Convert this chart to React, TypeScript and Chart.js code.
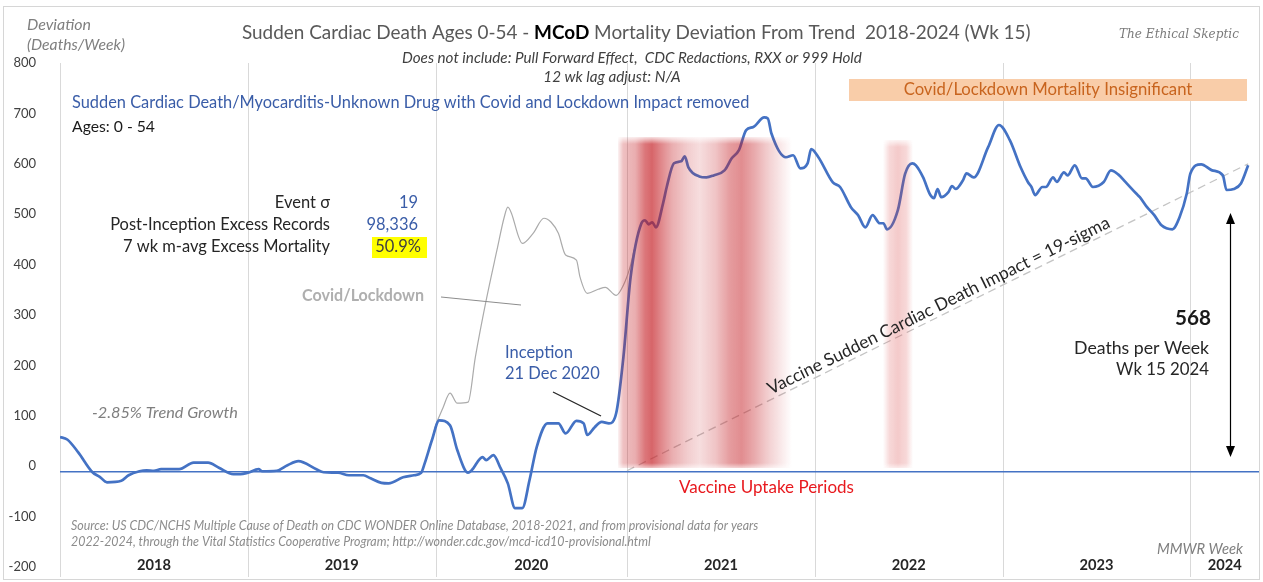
import React, { useEffect, useRef } from "react";
import { Chart, registerables } from "chart.js";
Chart.register(...registerables);

// ---------- DATA ----------
const yearLabels = ["2018", "2019", "2020", "2021", "2022", "2023", "2024"];
const yearStartWeeks = [0, 52, 104, 157, 209, 261, 313];
const axisEndWeek = 332;

// Sudden cardiac death deviation (deaths/week), week index since MMWR wk 1 2018
const weeks = [
  0, 2, 5, 9, 11, 13, 17, 19, 22, 24, 26, 28, 33, 37, 41, 44, 48, 50, 52, 55, 56, 60, 63, 66, 71, 73, 77, 80, 84, 86,
  89, 91, 95, 98, 100, 101, 103, 105, 108, 110, 113, 114, 117, 118, 120, 122, 124, 126, 128, 130, 132, 135, 138, 140,
  143, 145, 146, 148, 150, 152, 154, 156, 158, 161, 162, 163, 164, 165, 167, 168, 170, 172, 173, 174, 177, 179, 181,
  184, 186, 188, 190, 192, 195, 196, 197, 201, 203, 205, 207, 208, 210, 214, 216, 219, 221, 223, 225, 227, 228, 229,
  232, 234, 236, 237, 239, 241, 242, 243, 244, 246, 247, 248, 250, 251, 253, 257, 260, 263, 266, 268, 269, 270, 272,
  273, 275, 276, 278, 279, 281, 283, 284, 286, 289, 291, 293, 295, 298, 299, 301, 303, 305, 308, 310, 312, 313, 316,
  319, 322, 323, 325, 327, 329,
];
const cardiacDeviation = [
  58, 53, 28, -12, -21, -32, -29, -18, -10, -8, -9, -6, -6, 7, 7, -3, -16, -16, -13, -6, -10, -9, 2, 10, -6, -12, -13,
  -18, -18, -24, -33, -34, -22, -18, -13, 6, 52, 91, 81, 32, -13, -8, 18, 12, 22, -4, -34, -83, -83, -28, 38, 85, 85,
  65, 90, 85, 62, 77, 88, 85, 105, 216, 375, 482, 488, 480, 484, 474, 522, 554, 601, 605, 615, 593, 575, 573, 577,
  587, 611, 627, 667, 673, 692, 690, 660, 613, 617, 591, 601, 629, 613, 563, 554, 514, 498, 474, 498, 482, 482, 470,
  508, 580, 601, 597, 573, 538, 532, 550, 534, 544, 556, 550, 567, 581, 573, 633, 677, 647, 593, 564, 554, 538, 554,
  554, 573, 564, 583, 577, 597, 571, 571, 554, 564, 587, 579, 564, 541, 534, 514, 498, 478, 470, 494, 541, 581, 599,
  587, 577, 548, 550, 561, 597,
];

// Covid/Lockdown inclusive series (2020)
const covidWeeks = [
  103, 104, 106, 108, 110, 113, 115, 118, 121, 123, 124, 125, 127, 128, 131, 134, 136, 138, 140, 143, 144, 146, 149,
  151, 154, 156, 158, 159,
];
const covidDeviation = [
  52, 80, 115, 145, 125, 127, 216, 329, 429, 494, 514, 502, 455, 442, 462, 492, 484, 462, 419, 409, 375, 343, 351, 355,
  339, 359, 399, 430,
];

// Vaccine impact trend (dashed) and trend baseline
const impactTrendWeeks = [157, 329];
const impactTrendValues = [-9, 600];
const trendBaseline = -11;

// Vaccine uptake periods
const vaccineBandStart = [154.5, 227.9];
const vaccineBandEnd = [202.7, 236.2];
const vaccineBandTop = [653, 647];

// Stats
const statLabels = ["Event σ", "Post-Inception Excess Records", "7 wk m-avg Excess Mortality"];
const statValues = ["19", "98,336", "50.9%"];
const currentDeaths = "568";

// ---------- STYLE HELPERS ----------
const FONT = "Lato, 'Open Sans', 'DejaVu Sans', sans-serif";
const BLUE_TEXT = "#3A5DA8";

function setFont(ctx: CanvasRenderingContext2D, size: number, weight = "normal", style = "normal", family = FONT) {
  ctx.font = `${style} ${weight} ${size}px ${family}`;
}

type TOpts = { size: number; weight?: string; style?: string; family?: string; color: string; align?: CanvasTextAlign };

function fitSize(ctx: CanvasRenderingContext2D, text: string, width: number | null, o: TOpts) {
  setFont(ctx, o.size, o.weight, o.style, o.family);
  if (!width) return o.size;
  const w = ctx.measureText(text).width;
  let s = (o.size * width) / w;
  s = Math.max(o.size * 0.75, Math.min(o.size * 1.3, s));
  return s;
}

function txt(ctx: CanvasRenderingContext2D, text: string, x: number, y: number, width: number | null, o: TOpts) {
  const s = fitSize(ctx, text, width, o);
  setFont(ctx, s, o.weight, o.style, o.family);
  ctx.fillStyle = o.color;
  ctx.textAlign = o.align || "left";
  ctx.textBaseline = "middle";
  ctx.fillText(text, x, y);
  return s;
}

function drawBand(
  ctx: CanvasRenderingContext2D,
  x0: number,
  x1: number,
  yTop: number,
  yBot: number,
  stops: number[][],
  rgb: string
) {
  const w = Math.max(1, Math.round(x1 - x0));
  const h = Math.max(1, Math.round(yBot - yTop));
  const off = document.createElement("canvas");
  off.width = w;
  off.height = h;
  const o = off.getContext("2d")!;
  const g = o.createLinearGradient(0, 0, w, 0);
  stops.forEach(([p, a]) => g.addColorStop(p, `rgba(${rgb},${a})`));
  o.fillStyle = g;
  o.fillRect(0, 0, w, h);
  o.globalCompositeOperation = "destination-in";
  const v = o.createLinearGradient(0, 0, 0, h);
  v.addColorStop(0, "rgba(0,0,0,0.2)");
  v.addColorStop(Math.min(0.5, 7 / h), "rgba(0,0,0,1)");
  v.addColorStop(1 - Math.min(0.5, 5 / h), "rgba(0,0,0,1)");
  v.addColorStop(1, "rgba(0,0,0,0.4)");
  o.fillStyle = v;
  o.fillRect(0, 0, w, h);
  ctx.drawImage(off, Math.round(x0), Math.round(yTop));
}

const band1Stops = [
  [0, 0.05], [0.03, 0.28], [0.1, 0.36], [0.155, 0.6], [0.195, 0.68], [0.24, 0.55], [0.31, 0.36], [0.4, 0.22],
  [0.47, 0.15], [0.56, 0.26], [0.645, 0.44], [0.71, 0.5], [0.77, 0.4], [0.87, 0.2], [1, 0],
];
const band2Stops = [[0, 0], [0.22, 0.2], [0.5, 0.27], [0.78, 0.2], [1, 0]];

const decorPlugin = {
  id: "decor",
  beforeDatasetsDraw(chart: any) {
    const ctx: CanvasRenderingContext2D = chart.ctx;
    const xs = chart.scales.x;
    const area = chart.chartArea;
    ctx.save();
    // vertical year gridlines
    ctx.strokeStyle = "#D9D9D9";
    ctx.lineWidth = 1;
    yearStartWeeks.forEach((w) => {
      const x = Math.round(xs.getPixelForValue(w)) + 0.5;
      ctx.beginPath();
      ctx.moveTo(x, area.top);
      ctx.lineTo(x, 577);
      ctx.stroke();
    });
    // orange box
    ctx.fillStyle = "#F9CDA9";
    ctx.fillRect(849, 79, 398, 22);
    // yellow highlight
    ctx.fillStyle = "#FFFF00";
    ctx.fillRect(372, 237, 55, 21);
    ctx.restore();
  },
  afterDatasetsDraw(chart: any) {
    const ctx: CanvasRenderingContext2D = chart.ctx;
    const xs = chart.scales.x;
    const ys = chart.scales.y;
    ctx.save();
    vaccineBandStart.forEach((s, i) => {
      const x0 = xs.getPixelForValue(s);
      const x1 = xs.getPixelForValue(vaccineBandEnd[i]);
      const yT = ys.getPixelForValue(vaccineBandTop[i]);
      const yB = ys.getPixelForValue(-3);
      drawBand(ctx, x0, x1, yT, yB, i === 0 ? band1Stops : band2Stops, i === 0 ? "196,28,34" : "215,60,60");
    });
    ctx.restore();
  },
  afterDraw(chart: any) {
    const ctx: CanvasRenderingContext2D = chart.ctx;
    const xs = chart.scales.x;
    const ys = chart.scales.y;
    ctx.save();

    // frame
    ctx.strokeStyle = "#D6D6D6";
    ctx.lineWidth = 1;
    ctx.strokeRect(3.5, 6.5, 1256, 573);

    // axis title
    txt(ctx, "Deviation", 27, 25, 64, { size: 15, style: "italic", color: "#7F7F7F" });
    txt(ctx, "(Deaths/Week)", 27, 45, 98, { size: 15, style: "italic", color: "#7F7F7F" });

    // title with bold MCoD
    const p1 = "Sudden Cardiac Death Ages 0-54 - ";
    const p2 = "MCoD";
    const p3 = " Mortality Deviation From Trend  2018-2024 (Wk 15)";
    const base = 18;
    setFont(ctx, base);
    const w1 = ctx.measureText(p1).width;
    const w3 = ctx.measureText(p3).width;
    setFont(ctx, base, "bold");
    const w2 = ctx.measureText(p2).width;
    const sc = Math.max(0.8, Math.min(1.3, (1031 - 242) / (w1 + w2 + w3)));
    const ts = base * sc;
    ctx.textBaseline = "middle";
    ctx.textAlign = "left";
    setFont(ctx, ts);
    ctx.fillStyle = "#595959";
    ctx.fillText(p1, 242, 33);
    let cx = 242 + ctx.measureText(p1).width;
    setFont(ctx, ts, "bold");
    ctx.fillStyle = "#000000";
    ctx.fillText(p2, cx, 33);
    cx += ctx.measureText(p2).width;
    setFont(ctx, ts);
    ctx.fillStyle = "#595959";
    ctx.fillText(p3, cx, 33);

    // brand
    txt(ctx, "The Ethical Skeptic", 1119, 35, 120, {
      size: 14,
      style: "italic",
      family: "'DejaVu Serif', serif",
      color: "#7A7A7A",
    });

    // subtitle
    const ss = txt(ctx, "Does not include: Pull Forward Effect,  CDC Redactions, RXX or 999 Hold", 402, 58, 460, {
      size: 13,
      style: "italic",
      color: "#404040",
    });
    txt(ctx, "12 wk lag adjust: N/A", 612, 77, null, { size: ss, style: "italic", color: "#404040", align: "center" });

    // orange box text
    txt(ctx, "Covid/Lockdown Mortality Insignificant", 1048, 90, 289, {
      size: 15,
      color: "#C8641E",
      align: "center",
    });

    // series label
    txt(ctx, "Sudden Cardiac Death/Myocarditis-Unknown Drug with Covid and Lockdown Impact removed", 72, 103, 678, {
      size: 16,
      color: BLUE_TEXT,
    });
    txt(ctx, "Ages: 0 - 54", 72, 127, 83, { size: 16, color: "#1A1A1A" });

    // stats
    const statY = [203, 225, 247];
    const sz = fitSize(ctx, statLabels[1], 220, { size: 16, color: "#262626" });
    statLabels.forEach((l, i) => {
      txt(ctx, l, 330, statY[i], null, { size: sz, color: "#262626", align: "right" });
    });
    txt(ctx, statValues[0], 418, statY[0], null, { size: sz, color: BLUE_TEXT, align: "right" });
    txt(ctx, statValues[1], 418, statY[1], null, { size: sz, color: BLUE_TEXT, align: "right" });
    txt(ctx, statValues[2], 421, statY[2], null, { size: sz, color: "#404040", align: "right" });

    // covid/lockdown label
    txt(ctx, "Covid/Lockdown", 302, 296, 122, { size: 16, weight: "bold", color: "#AFAFAF" });
    ctx.strokeStyle = "#8C8C8C";
    ctx.lineWidth = 1;
    ctx.beginPath();
    ctx.moveTo(441, 297);
    ctx.lineTo(521, 305);
    ctx.stroke();

    // inception
    txt(ctx, "Inception", 505, 353, null, { size: sz, color: BLUE_TEXT });
    txt(ctx, "21 Dec 2020", 505, 374, null, { size: sz, color: BLUE_TEXT });
    ctx.strokeStyle = "#262626";
    ctx.lineWidth = 1.3;
    ctx.beginPath();
    ctx.moveTo(553, 392);
    ctx.lineTo(601, 416);
    ctx.stroke();

    // trend growth
    txt(ctx, "-2.85% Trend Growth", 92, 413, 146, { size: 16, style: "italic", color: "#7F7F7F" });

    // vaccine uptake label
    txt(ctx, "Vaccine Uptake Periods", 679, 488, 175, { size: 17, color: "#E8191E" });

    // rotated label along dashed trend
    const xa = xs.getPixelForValue(impactTrendWeeks[0]);
    const ya = ys.getPixelForValue(impactTrendValues[0]);
    const xb = xs.getPixelForValue(impactTrendWeeks[1]);
    const yb = ys.getPixelForValue(impactTrendValues[1]);
    const ang = Math.atan2(yb - ya, xb - xa);
    const mx = 943;
    const my = ya + ((mx - xa) * (yb - ya)) / (xb - xa);
    const off = 10;
    const px = mx + Math.sin(ang) * off;
    const py = my - Math.cos(ang) * off;
    ctx.save();
    ctx.translate(px, py);
    ctx.rotate(ang);
    txt(ctx, "Vaccine Sudden Cardiac Death Impact = 19-sigma", 0, 0, 380, {
      size: 16,
      color: "#262626",
      align: "center",
    });
    ctx.restore();

    // double arrow
    const ax = 1230.5;
    ctx.strokeStyle = "#000";
    ctx.fillStyle = "#000";
    ctx.lineWidth = 1.2;
    ctx.beginPath();
    ctx.moveTo(ax, 222);
    ctx.lineTo(ax, 448);
    ctx.stroke();
    ctx.beginPath();
    ctx.moveTo(ax, 213);
    ctx.lineTo(ax - 4.5, 224);
    ctx.lineTo(ax + 4.5, 224);
    ctx.closePath();
    ctx.fill();
    ctx.beginPath();
    ctx.moveTo(ax, 457);
    ctx.lineTo(ax - 4.5, 446);
    ctx.lineTo(ax + 4.5, 446);
    ctx.closePath();
    ctx.fill();

    txt(ctx, currentDeaths, 1211, 318, 36, { size: 20, weight: "bold", color: "#1A1A1A", align: "right" });
    txt(ctx, "Deaths per Week", 1209, 348, 135, { size: 16, color: "#262626", align: "right" });
    txt(ctx, "Wk 15 2024", 1209, 370, 93, { size: 16, color: "#262626", align: "right" });

    // source
    const srcS = txt(
      ctx,
      "Source: US CDC/NCHS Multiple Cause of Death on CDC WONDER Online Database, 2018-2021, and from provisional data for years",
      71,
      526,
      688,
      { size: 12, style: "italic", color: "#8C8C8C" }
    );
    txt(
      ctx,
      "2022-2024, through the Vital Statistics Cooperative Program; http://wonder.cdc.gov/mcd-icd10-provisional.html",
      71,
      542,
      null,
      { size: srcS, style: "italic", color: "#8C8C8C" }
    );

    txt(ctx, "MMWR Week", 1243, 549, 86, { size: 15, style: "italic", color: "#7F7F7F", align: "right" });

    // year labels
    yearLabels.forEach((lab, i) => {
      const s = yearStartWeeks[i];
      const e = i + 1 < yearStartWeeks.length ? yearStartWeeks[i + 1] : axisEndWeek;
      const x = xs.getPixelForValue((s + e) / 2);
      txt(ctx, lab, x, 565, 34, { size: 16, weight: "bold", color: "#262626", align: "center" });
    });

    ctx.restore();
  },
};

export default function App() {
  const ref = useRef<HTMLCanvasElement | null>(null);
  useEffect(() => {
    if (!ref.current) return;
    const chart = new Chart(ref.current, {
      type: "line",
      data: {
        datasets: [
          {
            label: "Sudden Cardiac Death",
            data: weeks.map((w, i) => ({ x: w, y: cardiacDeviation[i] })),
            borderColor: "#4472C4",
            borderWidth: 2.7,
            pointRadius: 0,
            cubicInterpolationMode: "monotone",
            fill: false,
          },
          {
            label: "Covid/Lockdown",
            data: covidWeeks.map((w, i) => ({ x: w, y: covidDeviation[i] })),
            borderColor: "#ABABAB",
            borderWidth: 1.2,
            pointRadius: 0,
            cubicInterpolationMode: "monotone",
            fill: false,
          },
          {
            label: "Impact trend",
            data: impactTrendWeeks.map((w, i) => ({ x: w, y: impactTrendValues[i] })),
            borderColor: "#C4C4C4",
            borderWidth: 1.3,
            borderDash: [8, 5],
            pointRadius: 0,
            fill: false,
          },
          {
            label: "Trend",
            data: [
              { x: 0, y: trendBaseline },
              { x: axisEndWeek, y: trendBaseline },
            ],
            borderColor: "#4472C4",
            borderWidth: 1.4,
            pointRadius: 0,
            fill: false,
          },
        ],
      },
      options: {
        responsive: false,
        maintainAspectRatio: false,
        animation: false,
        layout: { padding: { left: 0, top: 63, right: 4, bottom: 15 } },
        plugins: { legend: { display: false }, tooltip: { enabled: false } },
        scales: {
          x: { type: "linear", min: 0, max: axisEndWeek, display: false },
          y: {
            min: -200,
            max: 800,
            ticks: { stepSize: 100, color: "#404040", font: { family: FONT, size: 13 }, padding: 16 },
            grid: { display: false },
            border: { display: false },
            afterFit: (s: any) => {
              s.width = 60;
              s.paddingTop = 0;
              s.paddingBottom = 0;
            },
          },
        },
      },
      plugins: [decorPlugin],
    });
    return () => chart.destroy();
  }, []);
  return (
    <div style={{ position: "fixed", left: 0, top: 0, width: 1263, height: 582, background: "#fff" }}>
      <canvas ref={ref} width={1263} height={582} style={{ width: 1263, height: 582, display: "block" }} />
    </div>
  );
}
